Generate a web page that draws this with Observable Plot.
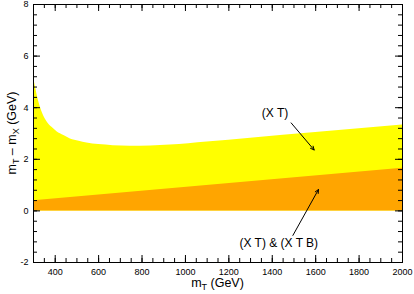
<!DOCTYPE html>
<html><head><meta charset="utf-8">
<script src="https://cdn.jsdelivr.net/npm/d3@7"></script>
<script src="https://cdn.jsdelivr.net/npm/@observablehq/plot@0.6"></script>
<style>body{margin:0;background:#fff}</style>
</head><body><div id="chart"></div>
<script>
// upper edge of the (X T) region
const upperMT = [300, 308, 315, 322, 331, 345, 362, 385, 408, 440, 470, 510, 546, 600, 667, 745, 840, 930, 1100, 1300, 1600, 2000];
const upperY  = [5.15, 4.85, 4.56, 4.30, 4.04, 3.72, 3.46, 3.24, 3.07, 2.92, 2.79, 2.70, 2.63, 2.57, 2.53, 2.51, 2.52, 2.55, 2.67, 2.82, 3.04, 3.33];
// upper edge of the (X T) & (X T B) region
const lowerMT = [300, 2000];
const lowerY  = [0.39, 1.65];
// annotations
const labelText = ["(X T)", "(X T) & (X T B)"];
const labelX = [1413, 1430];
const labelY = [3.79, -1.26];
const arrowX1 = [1487, 1495];
const arrowY1 = [3.41, -0.95];
const arrowX2 = [1593, 1613];
const arrowY2 = [2.36, 0.83];
// ticks
const xLabels = [400, 600, 800, 1000, 1200, 1400, 1600, 1800, 2000];
const xMinor = d3.range(300, 2001, 50);
const yLabels = [-2, 0, 2, 4, 6, 8];
const yMinor = d3.range(-2, 8.001, 0.4).map(v => +v.toFixed(1));

const upper = upperMT.map((x, i) => ({x, y: upperY[i]}));
const lower = lowerMT.map((x, i) => ({x, y: lowerY[i]}));
const labels = labelText.map((t, i) => ({t, x: labelX[i], y: labelY[i]}));
const arrows = arrowX1.map((x1, i) => ({x1, y1: arrowY1[i], x2: arrowX2[i], y2: arrowY2[i]}));

const W = 414, H = 294, mt = 4, mb = 32, ml = 33, mr = 12;
const ph = H - mt - mb, pw = W - ml - mr;
const MAJ = 7, MIN = 4;

const chart = Plot.plot({
  width: W, height: H,
  marginTop: mt, marginBottom: mb, marginLeft: ml, marginRight: mr,
  style: {fontFamily: "'Liberation Sans', Arial, sans-serif", fontSize: "9px", background: "white", color: "black"},
  x: {domain: [300, 2000]},
  y: {domain: [-2, 8]},
  marks: [
    Plot.areaY(upper, {x: "x", y1: 0, y2: "y", fill: "#ffff00", curve: "monotone-x"}),
    Plot.areaY(lower, {x: "x", y1: 0, y2: "y", fill: "#ffa500"}),
    // bottom ticks
    Plot.ruleX(xMinor, {stroke: "black", insetTop: ph - MIN}),
    Plot.ruleX(xLabels, {stroke: "black", insetTop: ph - MAJ}),
    // top ticks
    Plot.ruleX(xMinor, {stroke: "black", insetBottom: ph - MIN}),
    Plot.ruleX(xLabels, {stroke: "black", insetBottom: ph - MAJ}),
    // left ticks
    Plot.ruleY(yMinor, {stroke: "black", insetRight: pw - MIN}),
    Plot.ruleY(yLabels, {stroke: "black", insetRight: pw - MAJ}),
    // right ticks
    Plot.ruleY(yMinor, {stroke: "black", insetLeft: pw - MIN}),
    Plot.ruleY(yLabels, {stroke: "black", insetLeft: pw - MAJ}),
    Plot.axisX({ticks: xLabels, tickSize: 0, tickPadding: 6, fontSize: 9, label: null, tickFormat: d => String(d)}),
    Plot.axisY({ticks: yLabels, tickSize: 0, tickPadding: 5, fontSize: 9, label: null, tickFormat: d => String(d)}),
    Plot.frame({stroke: "black", strokeWidth: 1}),
    Plot.arrow(arrows, {x1: "x1", y1: "y1", x2: "x2", y2: "y2", stroke: "black", strokeWidth: 1, headLength: 6, headAngle: 50}),
    Plot.text(labels, {x: "x", y: "y", text: "t", fontSize: 12, fill: "black"})
  ]
});
document.getElementById("chart").appendChild(chart);

const svg = d3.select(chart);
const xt = svg.append("text")
  .attr("x", ml + pw / 2).attr("y", 287)
  .attr("text-anchor", "middle").attr("font-size", 12.5).attr("fill", "black");
xt.append("tspan").text("m");
xt.append("tspan").attr("font-size", 9).attr("dy", 3).text("T");
xt.append("tspan").attr("dy", -3).text(" (GeV)");

const yt = svg.append("text")
  .attr("transform", `translate(16,${mt + ph / 2}) rotate(-90)`)
  .attr("text-anchor", "middle").attr("font-size", 12.5).attr("fill", "black");
yt.append("tspan").text("m");
yt.append("tspan").attr("font-size", 9).attr("dy", 3).text("T");
yt.append("tspan").attr("dy", -3).text(" \u2013 m");
yt.append("tspan").attr("font-size", 9).attr("dy", 3).text("X");
yt.append("tspan").attr("dy", -3).text(" (GeV)");
</script>
</body></html>
